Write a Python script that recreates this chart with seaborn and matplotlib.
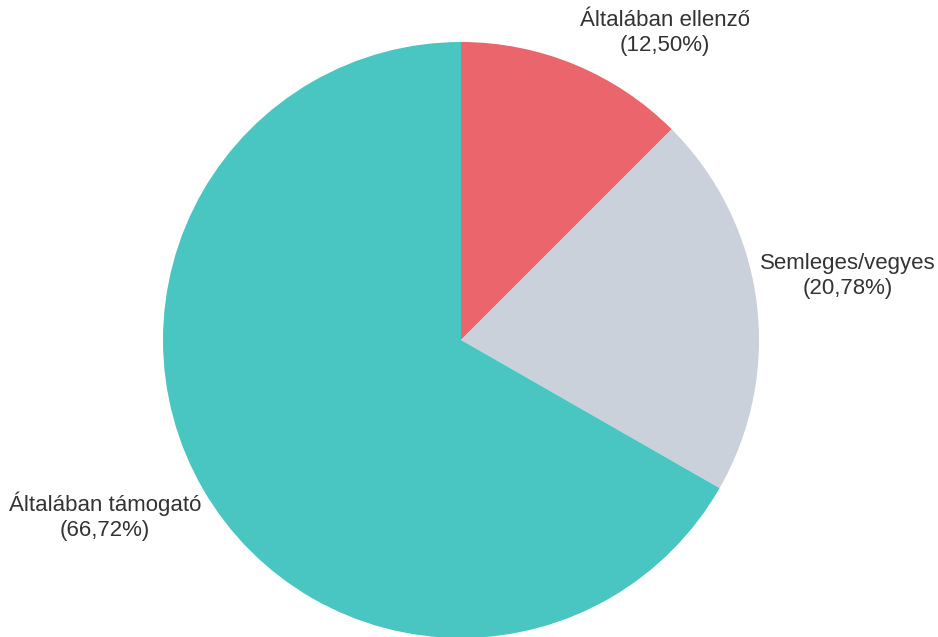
import matplotlib
matplotlib.use('Agg')
import matplotlib.pyplot as plt
import seaborn as sns

sns.set_style('white')
plt.rcParams['font.family'] = ['Liberation Sans', 'DejaVu Sans']

# data
categories = ['Általában ellenző', 'Semleges/vegyes', 'Általában támogató']
shares = [12.50, 20.78, 66.72]
colors = ['#EB666C', '#CAD1DA', '#4AC6C2']

# label anchor positions (data units, pie radius = 1)
label_pos = [(0.685, 1.030), (1.299, 0.215), (-1.195, -0.591)]

fig = plt.figure(figsize=(9.38, 6.37), dpi=100)
ax = fig.add_axes([163 / 938, -1 / 637, 596 / 938, 596 / 637])

ax.pie(shares, colors=colors, startangle=90, counterclock=False,
       radius=1.0, wedgeprops={'linewidth': 0})
ax.set_xlim(-1, 1)
ax.set_ylim(-1, 1)
ax.set_aspect('equal')
ax.axis('off')

for name, val, (x, y) in zip(categories, shares, label_pos):
    txt = '{}\n({}%)'.format(name, '{:.2f}'.format(val).replace('.', ','))
    ax.text(x, y, txt, ha='center', va='center', fontsize=16,
            color='#333333', linespacing=1.22, clip_on=False)

fig.savefig('out.png', dpi=100, facecolor='white')
